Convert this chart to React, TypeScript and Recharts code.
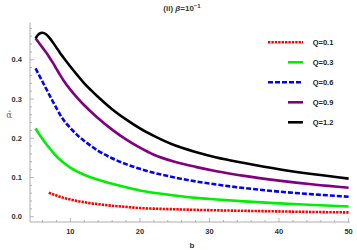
import React from 'react';
import { LineChart, Line, XAxis, YAxis } from 'recharts';

const bValues = [5, 5.5, 6, 6.5, 7, 7.5, 8, 8.5, 9, 10, 11, 12, 13, 14, 16, 18, 20, 22, 25, 28, 31, 35, 40, 45, 50];
const q12Values = [0.455, 0.466, 0.469, 0.465, 0.456, 0.444, 0.431, 0.418, 0.406, 0.383, 0.361, 0.340, 0.322, 0.305, 0.274, 0.248, 0.225, 0.206, 0.182, 0.165, 0.151, 0.137, 0.121, 0.108, 0.097];
const q09Values = [0.455, 0.443, 0.431, 0.419, 0.406, 0.392, 0.377, 0.362, 0.348, 0.324, 0.303, 0.284, 0.267, 0.251, 0.222, 0.197, 0.176, 0.158, 0.140, 0.127, 0.116, 0.104, 0.092, 0.082, 0.074];
const q06Values = [0.378, 0.361, 0.344, 0.327, 0.310, 0.293, 0.277, 0.261, 0.247, 0.226, 0.208, 0.193, 0.180, 0.168, 0.149, 0.134, 0.122, 0.112, 0.100, 0.090, 0.082, 0.073, 0.064, 0.057, 0.051];
const q03Values = [0.225, 0.211, 0.198, 0.186, 0.175, 0.164, 0.154, 0.146, 0.138, 0.125, 0.115, 0.107, 0.100, 0.094, 0.084, 0.075, 0.067, 0.061, 0.054, 0.048, 0.044, 0.039, 0.034, 0.030, 0.026];
const bRedValues = [6.9, 7.5, 8, 8.5, 9, 10, 11, 12, 13, 14, 16, 18, 20, 22, 25, 28, 31, 35, 40, 45, 50];
const q01Values = [0.061, 0.057, 0.054, 0.051, 0.048, 0.044, 0.040, 0.037, 0.034, 0.032, 0.028, 0.025, 0.022, 0.0205, 0.019, 0.0175, 0.0163, 0.015, 0.0135, 0.012, 0.011];

const xMajorTicks = [10, 20, 30, 40, 50];
const xAllTicks = [6, 8, 10, 12, 14, 16, 18, 20, 22, 24, 26, 28, 30, 32, 34, 36, 38, 40, 42, 44, 46, 48, 50];
const yMajorTicks = [0, 0.1, 0.2, 0.3, 0.4];
const yAllTicks = [0, 0.02, 0.04, 0.06, 0.08, 0.1, 0.12, 0.14, 0.16, 0.18, 0.2, 0.22, 0.24, 0.26, 0.28, 0.3, 0.32, 0.34, 0.36, 0.38, 0.4, 0.42, 0.44, 0.46, 0.48];
const yTickLabels = ['0.0', '0.1', '0.2', '0.3', '0.4'];

const series = [
  { name: 'Q=0.1', b: bRedValues, v: q01Values, color: '#ff0000', dash: '2.4 1', legendX1: 8 },
  { name: 'Q=0.3', b: bValues, v: q03Values, color: '#00ee00', dash: undefined, legendX1: 28 },
  { name: 'Q=0.6', b: bValues, v: q06Values, color: '#0000ff', dash: '5 2', legendX1: 8 },
  { name: 'Q=0.9', b: bValues, v: q09Values, color: '#800080', dash: undefined, legendX1: 28 },
  { name: 'Q=1.2', b: bValues, v: q12Values, color: '#000000', dash: undefined, legendX1: 28 },
];

const FONT = '"Liberation Sans", Arial, sans-serif';
const FRAME = '#9a9a9a';
const isMajor = (arr: number[], v: number) => arr.some((m) => Math.abs(m - v) < 1e-9);

const BottomTick = (props: any) => {
  const { x, y, payload } = props;
  const major = isMajor(xMajorTicks, payload.value);
  return (
    <g>
      <line x1={x} x2={x} y1={y} y2={y - (major ? 4 : 2)} stroke={FRAME} strokeWidth={0.7} />
      {major && (
        <text x={x} y={y + 12.4} textAnchor="middle" fontSize={7.5} fontWeight="bold" fill="#333" fontFamily={FONT}>
          {payload.value}
        </text>
      )}
    </g>
  );
};
const TopTick = (props: any) => {
  const { x, y, payload } = props;
  const major = isMajor(xMajorTicks, payload.value);
  return <line x1={x} x2={x} y1={y} y2={y + (major ? 4 : 2)} stroke={FRAME} strokeWidth={0.7} />;
};
const LeftTick = (props: any) => {
  const { x, y, payload } = props;
  const idx = yMajorTicks.findIndex((m) => Math.abs(m - payload.value) < 1e-9);
  const major = idx >= 0;
  return (
    <g>
      <line x1={x} x2={x + (major ? 4 : 2)} y1={y} y2={y} stroke={FRAME} strokeWidth={0.7} />
      {major && (
        <text x={x - 8} y={y + 2.7} textAnchor="end" fontSize={7.5} fontWeight="bold" fill="#333" fontFamily={FONT}>
          {yTickLabels[idx]}
        </text>
      )}
    </g>
  );
};
const RightTick = (props: any) => {
  const { x, y, payload } = props;
  const major = isMajor(yMajorTicks, payload.value);
  return <line x1={x} x2={x - (major ? 4 : 2)} y1={y} y2={y} stroke={FRAME} strokeWidth={0.7} />;
};

export default function App() {
  return (
    <div style={{ position: 'absolute', left: 0, top: 0, width: 357, height: 250, background: '#fff' }}>
      <LineChart width={357} height={250} margin={{ top: 22.5, right: 7, bottom: 0, left: 0 }}>
        <XAxis xAxisId="b" type="number" dataKey="b" domain={[4.2, 50.2]} ticks={xAllTicks} interval={0}
          orientation="bottom" height={28} tickSize={0} tickMargin={0} tickLine={false}
          axisLine={{ stroke: FRAME, strokeWidth: 0.8 }} tick={<BottomTick />} allowDataOverflow />
        <XAxis xAxisId="t" type="number" dataKey="b" domain={[4.2, 50.2]} ticks={xAllTicks} interval={0}
          orientation="top" height={0} tickSize={0} tickMargin={0} tickLine={false}
          axisLine={{ stroke: FRAME, strokeWidth: 0.8 }} tick={<TopTick />} allowDataOverflow />
        <YAxis yAxisId="l" type="number" domain={[-0.0135, 0.495]} ticks={yAllTicks} interval={0}
          orientation="left" width={30} tickSize={0} tickMargin={0} tickLine={false}
          axisLine={{ stroke: FRAME, strokeWidth: 0.8 }} tick={<LeftTick />} allowDataOverflow />
        <YAxis yAxisId="r" type="number" domain={[-0.0135, 0.495]} ticks={yAllTicks} interval={0}
          orientation="right" width={0} tickSize={0} tickMargin={0} tickLine={false}
          axisLine={{ stroke: FRAME, strokeWidth: 0.8 }} tick={<RightTick />} allowDataOverflow />
        {series.map((s) => (
          <Line
            key={s.name}
            xAxisId="b"
            yAxisId="l"
            data={s.b.map((b, i) => ({ b, v: s.v[i] }))}
            dataKey="v"
            type="monotone"
            stroke={s.color}
            strokeWidth={2.6}
            strokeDasharray={s.dash}
            dot={false}
            activeDot={false}
            isAnimationActive={false}
          />
        ))}
      </LineChart>
      <svg width={357} height={250} style={{ position: 'absolute', left: 0, top: 0, pointerEvents: 'none' }}>
        <text x={182} y={11} textAnchor="middle" fontSize={8} fontWeight="bold" fill="#333" fontFamily={FONT}>
          (ii) <tspan fontStyle="italic">β</tspan>=10<tspan fontSize={6} dy={-3}>−1</tspan>
        </text>
        <text x={9} y={118} textAnchor="middle" fontSize={8.5} fill="#666" fontFamily={'"DejaVu Serif", "DejaVu Sans", serif'}>α̂</text>
        <text x={192} y={247.5} textAnchor="middle" fontSize={8} fontWeight="bold" fill="#333" fontFamily={FONT}>b</text>
        <g transform="translate(260,32)">
          {series.map((s, i) => (
            <g key={s.name}>
              <line x1={s.legendX1} x2={43} y1={10.3 + i * 20} y2={10.3 + i * 20} stroke={s.color} strokeWidth={2.6} strokeDasharray={s.dash} />
              <text x={52.7} y={13 + i * 20} fontSize={7.5} fontWeight="bold" fill="#222" fontFamily={FONT}>{s.name}</text>
            </g>
          ))}
        </g>
      </svg>
    </div>
  );
}
